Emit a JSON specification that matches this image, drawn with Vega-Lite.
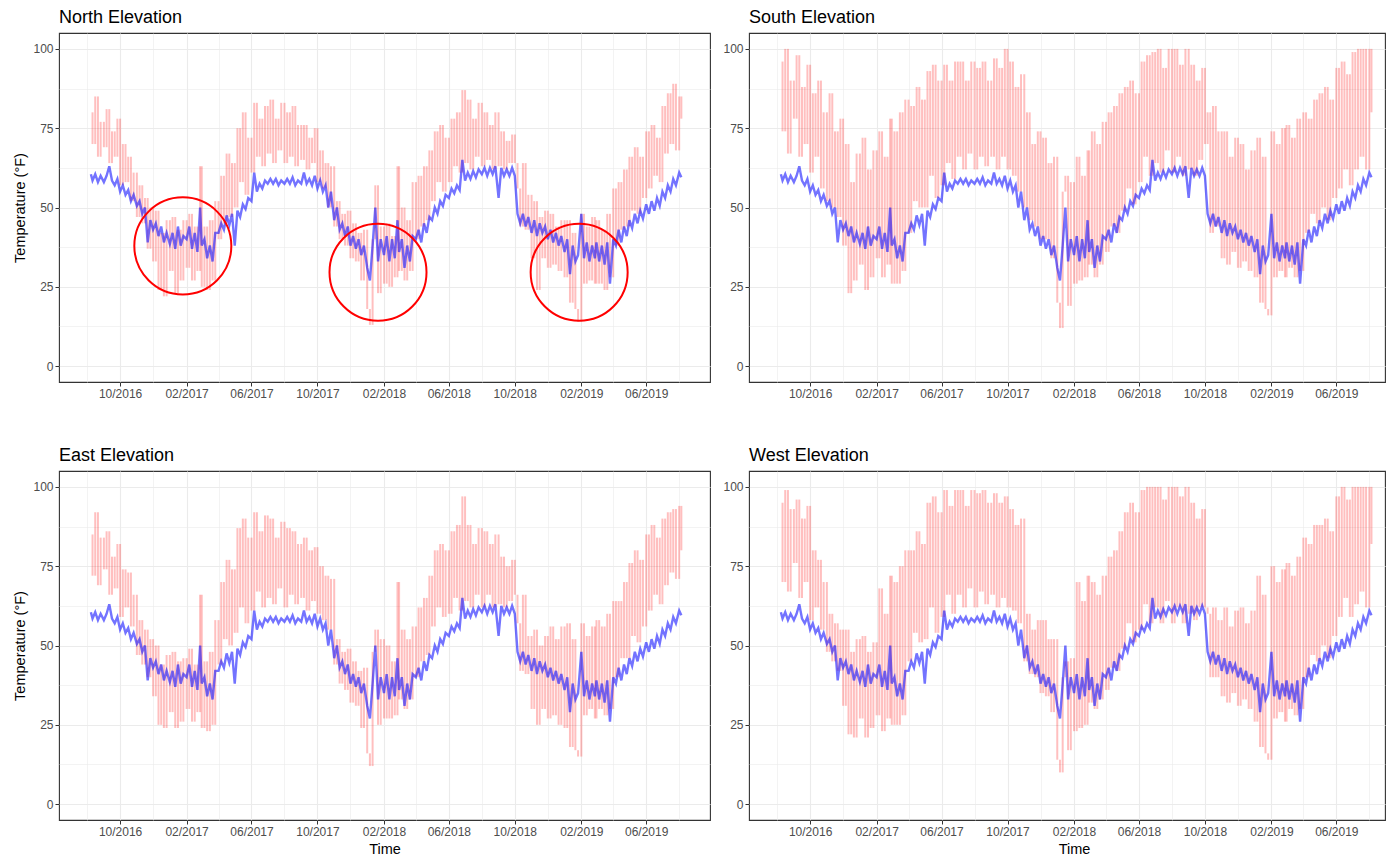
{
"$schema":"https://vega.github.io/schema/vega-lite/v6.json",
"background":"white",
"padding":{"left":12,"top":8,"right":0,"bottom":0},
"spacing":46,
"datasets":{
"c":[{"t":"2017-01-25","v":37.9},{"t":"2018-01-21","v":29.6},{"t":"2019-01-28","v":29.6}],
"d":[
{"t":"2016-08-08","i":60.5,"n":80,"s":96,"e":85,"w":95},
{"t":"2016-08-11","i":58.5,"n":70,"s":74,"e":72,"w":70},
{"t":"2016-08-16","i":60.5,"n":85,"s":100,"e":92,"w":99},
{"t":"2016-08-21","i":58,"n":66,"s":67,"e":69,"w":67},
{"t":"2016-08-26","i":60,"n":77,"s":90,"e":84,"w":93},
{"t":"2016-09-01","i":58,"n":69,"s":78,"e":74,"w":76},
{"t":"2016-09-06","i":60,"n":81,"s":98,"e":86,"w":96},
{"t":"2016-09-11","i":63,"n":64,"s":66,"e":66,"w":65},
{"t":"2016-09-16","i":58.5,"n":74,"s":88,"e":78,"w":90},
{"t":"2016-09-21","i":57,"n":66,"s":70,"e":68,"w":70},
{"t":"2016-09-26","i":59,"n":78,"s":95,"e":82,"w":94},
{"t":"2016-10-01","i":55,"n":57,"s":61,"e":59,"w":58},
{"t":"2016-10-06","i":57,"n":70,"s":86,"e":74,"w":80},
{"t":"2016-10-11","i":54,"n":58,"s":66,"e":62,"w":62},
{"t":"2016-10-16","i":55.5,"n":66,"s":90,"e":73,"w":77},
{"t":"2016-10-21","i":52,"n":52,"s":56,"e":56,"w":55},
{"t":"2016-10-26","i":54,"n":61,"s":80,"e":66,"w":70},
{"t":"2016-11-01","i":50.5,"n":47,"s":52,"e":47,"w":48},
{"t":"2016-11-06","i":52,"n":57,"s":86,"e":58,"w":60},
{"t":"2016-11-11","i":48,"n":45,"s":50,"e":44,"w":45},
{"t":"2016-11-16","i":50,"n":53,"s":74,"e":55,"w":57},
{"t":"2016-11-21","i":39,"n":37,"s":47,"e":40,"w":42},
{"t":"2016-11-26","i":46,"n":50,"s":78,"e":52,"w":55},
{"t":"2016-12-01","i":43,"n":33,"s":38,"e":34,"w":31},
{"t":"2016-12-06","i":45,"n":49,"s":70,"e":50,"w":55},
{"t":"2016-12-11","i":41,"n":24,"s":23,"e":25,"w":22},
{"t":"2016-12-16","i":44,"n":42,"s":58,"e":44,"w":48},
{"t":"2016-12-21","i":39,"n":22,"s":27,"e":24,"w":21},
{"t":"2016-12-26","i":42,"n":46,"s":67,"e":47,"w":52},
{"t":"2017-01-01","i":38.5,"n":30,"s":32,"e":29,"w":27},
{"t":"2017-01-06","i":42,"n":47,"s":72,"e":48,"w":53},
{"t":"2017-01-11","i":37,"n":23,"s":24,"e":24,"w":21},
{"t":"2017-01-16","i":44,"n":43,"s":62,"e":45,"w":48},
{"t":"2017-01-21","i":38,"n":27,"s":28,"e":26,"w":24},
{"t":"2017-01-26","i":41,"n":46,"s":68,"e":46,"w":51},
{"t":"2017-02-01","i":40,"n":31,"s":34,"e":30,"w":28},
{"t":"2017-02-06","i":44,"n":48,"s":74,"e":49,"w":68},
{"t":"2017-02-11","i":37,"n":27,"s":28,"e":26,"w":23},
{"t":"2017-02-16","i":42,"n":44,"s":66,"e":44,"w":60},
{"t":"2017-02-21","i":36,"n":30,"s":32,"e":29,"w":27},
{"t":"2017-02-26","i":50,"n":63,"s":78,"e":66,"w":72},
{"t":"2017-03-01","i":38,"n":25,"s":26,"e":24,"w":25},
{"t":"2017-03-06","i":40,"n":44,"s":74,"e":45,"w":70},
{"t":"2017-03-11","i":34,"n":24,"s":26,"e":23,"w":25},
{"t":"2017-03-16","i":38,"n":46,"s":80,"e":48,"w":75},
{"t":"2017-03-21","i":33,"n":27,"s":30,"e":25,"w":28},
{"t":"2017-03-26","i":42,"n":52,"s":84,"e":58,"w":80},
{"t":"2017-04-01","i":42,"n":40,"s":42,"e":44,"w":45},
{"t":"2017-04-06","i":45,"n":60,"s":82,"e":70,"w":80},
{"t":"2017-04-11","i":43,"n":45,"s":52,"e":52,"w":54},
{"t":"2017-04-16","i":47.5,"n":67,"s":88,"e":77,"w":86},
{"t":"2017-04-21","i":44.5,"n":47,"s":50,"e":50,"w":51},
{"t":"2017-04-26","i":48,"n":64,"s":84,"e":74,"w":82},
{"t":"2017-05-01","i":38,"n":50,"s":50,"e":54,"w":52},
{"t":"2017-05-06","i":49,"n":75,"s":93,"e":87,"w":95},
{"t":"2017-05-11","i":47,"n":58,"s":60,"e":62,"w":62},
{"t":"2017-05-16","i":51,"n":80,"s":95,"e":90,"w":97},
{"t":"2017-05-21","i":49.5,"n":54,"s":53,"e":57,"w":54},
{"t":"2017-05-26","i":53,"n":72,"s":90,"e":84,"w":92},
{"t":"2017-06-01","i":52,"n":61,"s":57,"e":61,"w":59},
{"t":"2017-06-06","i":61,"n":83,"s":95,"e":92,"w":99},
{"t":"2017-06-11","i":55,"n":66,"s":64,"e":67,"w":66},
{"t":"2017-06-16","i":57.5,"n":78,"s":90,"e":86,"w":94},
{"t":"2017-06-21","i":56,"n":63,"s":59,"e":62,"w":60},
{"t":"2017-06-26","i":58.5,"n":82,"s":96,"e":91,"w":99},
{"t":"2017-07-01","i":57.5,"n":67,"s":66,"e":65,"w":66},
{"t":"2017-07-06","i":59,"n":84,"s":96,"e":90,"w":99},
{"t":"2017-07-11","i":57.5,"n":64,"s":62,"e":63,"w":62},
{"t":"2017-07-16","i":59,"n":78,"s":90,"e":84,"w":94},
{"t":"2017-07-21","i":57,"n":68,"s":67,"e":68,"w":68},
{"t":"2017-07-26","i":58.5,"n":83,"s":96,"e":89,"w":99},
{"t":"2017-08-01","i":57.5,"n":64,"s":62,"e":62,"w":62},
{"t":"2017-08-06","i":59,"n":80,"s":94,"e":87,"w":98},
{"t":"2017-08-11","i":57.5,"n":66,"s":66,"e":66,"w":67},
{"t":"2017-08-16","i":59.5,"n":82,"s":96,"e":86,"w":99},
{"t":"2017-08-21","i":57,"n":63,"s":63,"e":63,"w":63},
{"t":"2017-08-26","i":58.5,"n":76,"s":90,"e":82,"w":95},
{"t":"2017-09-01","i":57.5,"n":65,"s":66,"e":65,"w":66},
{"t":"2017-09-06","i":61,"n":76,"s":97,"e":84,"w":98},
{"t":"2017-09-11","i":57.5,"n":62,"s":62,"e":61,"w":62},
{"t":"2017-09-16","i":59,"n":72,"s":94,"e":80,"w":95},
{"t":"2017-09-21","i":57,"n":64,"s":66,"e":64,"w":65},
{"t":"2017-09-26","i":60,"n":75,"s":100,"e":81,"w":97},
{"t":"2017-10-01","i":56,"n":58,"s":62,"e":60,"w":62},
{"t":"2017-10-06","i":58.5,"n":68,"s":96,"e":75,"w":93},
{"t":"2017-10-11","i":55,"n":56,"s":60,"e":58,"w":61},
{"t":"2017-10-16","i":57,"n":64,"s":88,"e":72,"w":88},
{"t":"2017-10-21","i":50,"n":50,"s":55,"e":55,"w":57},
{"t":"2017-10-26","i":55,"n":63,"s":92,"e":71,"w":90},
{"t":"2017-11-01","i":46,"n":44,"s":50,"e":44,"w":45},
{"t":"2017-11-06","i":50,"n":52,"s":80,"e":52,"w":60},
{"t":"2017-11-11","i":43,"n":40,"s":46,"e":38,"w":41},
{"t":"2017-11-16","i":45,"n":48,"s":70,"e":48,"w":55},
{"t":"2017-11-21","i":41,"n":38,"s":44,"e":36,"w":40},
{"t":"2017-11-26","i":44,"n":49,"s":74,"e":49,"w":58},
{"t":"2017-12-01","i":38,"n":34,"s":40,"e":32,"w":35},
{"t":"2017-12-06","i":41,"n":45,"s":72,"e":45,"w":58},
{"t":"2017-12-11","i":37,"n":33,"s":40,"e":31,"w":34},
{"t":"2017-12-16","i":40,"n":42,"s":64,"e":42,"w":52},
{"t":"2017-12-21","i":35,"n":27,"s":34,"e":24,"w":29},
{"t":"2017-12-26","i":38,"n":43,"s":66,"e":43,"w":52},
{"t":"2018-01-01","i":31,"n":18,"s":20,"e":16,"w":14},
{"t":"2018-01-06","i":27,"n":13,"s":12,"e":12,"w":10},
{"t":"2018-01-11","i":38,"n":40,"s":55,"e":48,"w":40},
{"t":"2018-01-16","i":50,"n":57,"s":60,"e":55,"w":45},
{"t":"2018-01-21","i":33,"n":23,"s":19,"e":25,"w":17},
{"t":"2018-01-26","i":40,"n":44,"s":58,"e":52,"w":46},
{"t":"2018-02-01","i":35,"n":26,"s":26,"e":27,"w":23},
{"t":"2018-02-06","i":41,"n":45,"s":66,"e":50,"w":70},
{"t":"2018-02-11","i":33,"n":25,"s":27,"e":27,"w":24},
{"t":"2018-02-16","i":40,"n":41,"s":60,"e":45,"w":64},
{"t":"2018-02-21","i":34,"n":28,"s":28,"e":28,"w":25},
{"t":"2018-02-26","i":46,"n":63,"s":68,"e":70,"w":72},
{"t":"2018-03-01","i":36,"n":30,"s":32,"e":33,"w":32},
{"t":"2018-03-06","i":40,"n":50,"s":74,"e":55,"w":70},
{"t":"2018-03-11","i":31,"n":27,"s":28,"e":30,"w":30},
{"t":"2018-03-16","i":38,"n":46,"s":70,"e":52,"w":66},
{"t":"2018-03-21","i":33,"n":30,"s":32,"e":33,"w":33},
{"t":"2018-03-26","i":41,"n":58,"s":77,"e":56,"w":72},
{"t":"2018-04-01","i":40,"n":40,"s":36,"e":40,"w":36},
{"t":"2018-04-06","i":43,"n":60,"s":80,"e":62,"w":78},
{"t":"2018-04-11","i":39,"n":44,"s":44,"e":45,"w":43},
{"t":"2018-04-16","i":45,"n":63,"s":82,"e":65,"w":80},
{"t":"2018-04-21","i":42,"n":46,"s":42,"e":47,"w":42},
{"t":"2018-04-26","i":47,"n":68,"s":86,"e":72,"w":86},
{"t":"2018-05-01","i":46,"n":52,"s":49,"e":56,"w":49},
{"t":"2018-05-06","i":50,"n":74,"s":88,"e":80,"w":92},
{"t":"2018-05-11","i":48,"n":58,"s":56,"e":62,"w":57},
{"t":"2018-05-16","i":52,"n":76,"s":90,"e":82,"w":95},
{"t":"2018-05-21","i":50.5,"n":55,"s":51,"e":59,"w":51},
{"t":"2018-05-26","i":54,"n":72,"s":86,"e":80,"w":92},
{"t":"2018-06-01","i":53,"n":58,"s":58,"e":60,"w":55},
{"t":"2018-06-06","i":56,"n":78,"s":96,"e":86,"w":99},
{"t":"2018-06-11","i":54.5,"n":63,"s":66,"e":65,"w":63},
{"t":"2018-06-16","i":57,"n":80,"s":98,"e":88,"w":100},
{"t":"2018-06-21","i":55.5,"n":61,"s":60,"e":61,"w":57},
{"t":"2018-06-26","i":65,"n":87,"s":99,"e":97,"w":100},
{"t":"2018-07-01","i":58.5,"n":64,"s":64,"e":64,"w":62},
{"t":"2018-07-06","i":61,"n":84,"s":100,"e":88,"w":100},
{"t":"2018-07-11","i":59,"n":62,"s":61,"e":62,"w":57},
{"t":"2018-07-16","i":61.5,"n":78,"s":94,"e":82,"w":96},
{"t":"2018-07-21","i":59.5,"n":66,"s":68,"e":66,"w":64},
{"t":"2018-07-26","i":62,"n":83,"s":100,"e":87,"w":100},
{"t":"2018-08-01","i":60.5,"n":63,"s":61,"e":62,"w":57},
{"t":"2018-08-06","i":62.5,"n":80,"s":100,"e":86,"w":100},
{"t":"2018-08-11","i":60,"n":65,"s":66,"e":66,"w":62},
{"t":"2018-08-16","i":62.5,"n":76,"s":95,"e":82,"w":97},
{"t":"2018-08-21","i":60.5,"n":62,"s":60,"e":62,"w":57},
{"t":"2018-08-26","i":63,"n":80,"s":100,"e":85,"w":100},
{"t":"2018-09-01","i":53,"n":63,"s":62,"e":63,"w":60},
{"t":"2018-09-06","i":62.5,"n":74,"s":95,"e":78,"w":95},
{"t":"2018-09-11","i":60,"n":62,"s":60,"e":62,"w":58},
{"t":"2018-09-16","i":62,"n":71,"s":90,"e":75,"w":90},
{"t":"2018-09-21","i":60,"n":64,"s":65,"e":64,"w":62},
{"t":"2018-09-26","i":62.5,"n":73,"s":94,"e":77,"w":93},
{"t":"2018-10-01","i":60,"n":64,"s":70,"e":66,"w":62},
{"t":"2018-10-06","i":48,"n":56,"s":80,"e":57,"w":60},
{"t":"2018-10-11","i":45,"n":44,"s":42,"e":42,"w":40},
{"t":"2018-10-16","i":48,"n":64,"s":82,"e":66,"w":62},
{"t":"2018-10-21","i":44,"n":43,"s":44,"e":41,"w":40},
{"t":"2018-10-26","i":47,"n":54,"s":74,"e":53,"w":58},
{"t":"2018-11-01","i":42,"n":34,"s":34,"e":30,"w":34},
{"t":"2018-11-06","i":46,"n":52,"s":74,"e":55,"w":62},
{"t":"2018-11-11","i":41,"n":24,"s":32,"e":25,"w":32},
{"t":"2018-11-16","i":45,"n":47,"s":66,"e":50,"w":56},
{"t":"2018-11-21","i":42,"n":34,"s":36,"e":30,"w":35},
{"t":"2018-11-26","i":44,"n":49,"s":72,"e":53,"w":61},
{"t":"2018-12-01","i":40,"n":31,"s":31,"e":27,"w":31},
{"t":"2018-12-06","i":43,"n":48,"s":70,"e":56,"w":62},
{"t":"2018-12-11","i":39,"n":32,"s":33,"e":28,"w":33},
{"t":"2018-12-16","i":42,"n":44,"s":62,"e":52,"w":57},
{"t":"2018-12-21","i":38,"n":30,"s":30,"e":25,"w":30},
{"t":"2018-12-26","i":41,"n":46,"s":68,"e":56,"w":61},
{"t":"2019-01-01","i":36,"n":28,"s":28,"e":24,"w":26},
{"t":"2019-01-06","i":40,"n":46,"s":72,"e":57,"w":72},
{"t":"2019-01-11","i":29,"n":20,"s":20,"e":18,"w":18},
{"t":"2019-01-16","i":38,"n":42,"s":66,"e":52,"w":66},
{"t":"2019-01-21","i":33,"n":18,"s":18,"e":17,"w":16},
{"t":"2019-01-26","i":35,"n":14,"s":16,"e":15,"w":14},
{"t":"2019-02-01","i":48,"n":48,"s":74,"e":57,"w":75},
{"t":"2019-02-06","i":34,"n":26,"s":28,"e":28,"w":27},
{"t":"2019-02-11","i":39,"n":44,"s":70,"e":53,"w":70},
{"t":"2019-02-16","i":33,"n":27,"s":30,"e":30,"w":29},
{"t":"2019-02-21","i":38,"n":47,"s":75,"e":56,"w":74},
{"t":"2019-02-26","i":34,"n":26,"s":28,"e":27,"w":26},
{"t":"2019-03-01","i":39,"n":46,"s":76,"e":58,"w":76},
{"t":"2019-03-06","i":33,"n":26,"s":31,"e":30,"w":30},
{"t":"2019-03-11","i":38,"n":43,"s":72,"e":56,"w":72},
{"t":"2019-03-16","i":32,"n":24,"s":28,"e":28,"w":28},
{"t":"2019-03-21","i":39,"n":48,"s":78,"e":60,"w":78},
{"t":"2019-03-26","i":26,"n":28,"s":30,"e":30,"w":30},
{"t":"2019-04-01","i":40,"n":56,"s":80,"e":64,"w":84},
{"t":"2019-04-06","i":38,"n":38,"s":42,"e":40,"w":40},
{"t":"2019-04-11","i":43,"n":58,"s":78,"e":64,"w":82},
{"t":"2019-04-16","i":39,"n":43,"s":48,"e":46,"w":47},
{"t":"2019-04-21","i":44,"n":62,"s":84,"e":70,"w":88},
{"t":"2019-04-26","i":41,"n":44,"s":45,"e":46,"w":45},
{"t":"2019-05-01","i":46,"n":66,"s":86,"e":76,"w":88},
{"t":"2019-05-06","i":43.5,"n":49,"s":50,"e":53,"w":50},
{"t":"2019-05-11","i":48,"n":69,"s":88,"e":80,"w":90},
{"t":"2019-05-16","i":45,"n":48,"s":46,"e":51,"w":46},
{"t":"2019-05-21","i":49,"n":66,"s":84,"e":77,"w":86},
{"t":"2019-05-26","i":46.5,"n":53,"s":53,"e":56,"w":53},
{"t":"2019-06-01","i":51,"n":74,"s":94,"e":85,"w":97},
{"t":"2019-06-06","i":48,"n":56,"s":56,"e":61,"w":59},
{"t":"2019-06-11","i":52,"n":76,"s":96,"e":88,"w":100},
{"t":"2019-06-16","i":49,"n":60,"s":62,"e":66,"w":65},
{"t":"2019-06-21","i":53,"n":72,"s":92,"e":84,"w":96},
{"t":"2019-06-26","i":50.5,"n":58,"s":57,"e":63,"w":59},
{"t":"2019-07-01","i":55,"n":82,"s":99,"e":90,"w":100},
{"t":"2019-07-06","i":53,"n":67,"s":62,"e":69,"w":63},
{"t":"2019-07-11","i":57,"n":86,"s":100,"e":92,"w":100},
{"t":"2019-07-16","i":55,"n":70,"s":66,"e":73,"w":67},
{"t":"2019-07-21","i":59,"n":89,"s":100,"e":93,"w":100},
{"t":"2019-07-26","i":57,"n":68,"s":62,"e":71,"w":62},
{"t":"2019-08-01","i":61,"n":85,"s":100,"e":94,"w":100},
{"t":"2019-08-05","i":59.5,"n":78,"s":80,"e":80,"w":82}
]},
"vconcat":[
{"spacing":11,"hconcat":[
{"title":"North Elevation","width":651,"height":349,"data":{"name":"d"},
 "encoding":{"x":{"field":"t","type":"temporal","title":null,"scale":{"domain":[{"year":2016,"month":6,"date":10},{"year":2019,"month":9,"date":27}],"nice":false},
  "axis":{"values":[{"year":2016,"month":8,"date":1},{"year":2016,"month":10,"date":1},{"year":2016,"month":12,"date":1},{"year":2017,"month":2,"date":1},{"year":2017,"month":4,"date":1},{"year":2017,"month":6,"date":1},{"year":2017,"month":8,"date":1},{"year":2017,"month":10,"date":1},{"year":2017,"month":12,"date":1},{"year":2018,"month":2,"date":1},{"year":2018,"month":4,"date":1},{"year":2018,"month":6,"date":1},{"year":2018,"month":8,"date":1},{"year":2018,"month":10,"date":1},{"year":2018,"month":12,"date":1},{"year":2019,"month":2,"date":1},{"year":2019,"month":4,"date":1},{"year":2019,"month":6,"date":1},{"year":2019,"month":8,"date":1}],
   "format":"%m/%Y","labelExpr":"month(datum.value) % 4 === 3 ? '' : datum.label","labelOverlap":false,"labelFlush":false,
   "tickOpacity":{"condition":{"test":"month(datum.value) % 4 === 3","value":0},"value":1},
   "gridWidth":{"condition":{"test":"month(datum.value) % 4 === 3","value":0.6},"value":1.1}}}},
 "layer":[
  {"transform":[{"window":[{"op":"lag","field":"n","as":"p"}],"sort":[{"field":"t"}]}],
   "mark":{"type":"rule","color":"#ff0000","opacity":0.25,"strokeWidth":2},
   "encoding":{"y":{"field":"n","type":"quantitative","title":"Temperature (°F)","scale":{"domain":[-5,105],"nice":false,"zero":false},
    "axis":{"values":[0,12.5,25,37.5,50,62.5,75,87.5,100],"labelExpr":"datum.value % 25 === 0 ? datum.label : ''","titlePadding":5,
     "tickOpacity":{"condition":{"test":"datum.value % 25 !== 0","value":0},"value":1},
     "gridWidth":{"condition":{"test":"datum.value % 25 !== 0","value":0.6},"value":1.1}}},"y2":{"field":"p"}}},
  {"mark":{"type":"line","color":"#0000ff","opacity":0.55,"strokeWidth":2.4},
   "encoding":{"y":{"field":"i","type":"quantitative","title":"Temperature (°F)","scale":{"domain":[-5,105],"nice":false,"zero":false}}}},
  {"data":{"name":"c"},"mark":{"type":"point","shape":"circle","filled":false,"color":"#ff0000","strokeWidth":2,"size":9409,"opacity":1},
   "encoding":{"y":{"field":"v","type":"quantitative","title":"Temperature (°F)","scale":{"domain":[-5,105],"nice":false,"zero":false}}}}
 ]},
{"title":"South Elevation","width":636,"height":349,"data":{"name":"d"},
 "encoding":{"x":{"field":"t","type":"temporal","title":null,"scale":{"domain":[{"year":2016,"month":6,"date":10},{"year":2019,"month":8,"date":30}],"nice":false},
  "axis":{"values":[{"year":2016,"month":8,"date":1},{"year":2016,"month":10,"date":1},{"year":2016,"month":12,"date":1},{"year":2017,"month":2,"date":1},{"year":2017,"month":4,"date":1},{"year":2017,"month":6,"date":1},{"year":2017,"month":8,"date":1},{"year":2017,"month":10,"date":1},{"year":2017,"month":12,"date":1},{"year":2018,"month":2,"date":1},{"year":2018,"month":4,"date":1},{"year":2018,"month":6,"date":1},{"year":2018,"month":8,"date":1},{"year":2018,"month":10,"date":1},{"year":2018,"month":12,"date":1},{"year":2019,"month":2,"date":1},{"year":2019,"month":4,"date":1},{"year":2019,"month":6,"date":1},{"year":2019,"month":8,"date":1}],
   "format":"%m/%Y","labelExpr":"month(datum.value) % 4 === 3 ? '' : datum.label","labelOverlap":false,"labelFlush":false,
   "tickOpacity":{"condition":{"test":"month(datum.value) % 4 === 3","value":0},"value":1},
   "gridWidth":{"condition":{"test":"month(datum.value) % 4 === 3","value":0.6},"value":1.1}}}},
 "layer":[
  {"transform":[{"window":[{"op":"lag","field":"s","as":"p"}],"sort":[{"field":"t"}]}],
   "mark":{"type":"rule","color":"#ff0000","opacity":0.25,"strokeWidth":2},
   "encoding":{"y":{"field":"s","type":"quantitative","title":null,"scale":{"domain":[-5,105],"nice":false,"zero":false},
    "axis":{"values":[0,12.5,25,37.5,50,62.5,75,87.5,100],"labelExpr":"datum.value % 25 === 0 ? datum.label : ''",
     "tickOpacity":{"condition":{"test":"datum.value % 25 !== 0","value":0},"value":1},
     "gridWidth":{"condition":{"test":"datum.value % 25 !== 0","value":0.6},"value":1.1}}},"y2":{"field":"p"}}},
  {"mark":{"type":"line","color":"#0000ff","opacity":0.55,"strokeWidth":2.4},
   "encoding":{"y":{"field":"i","type":"quantitative","title":null,"scale":{"domain":[-5,105],"nice":false,"zero":false}}}}
 ]}
]},
{"spacing":11,"hconcat":[
{"title":"East Elevation","width":651,"height":349,"data":{"name":"d"},
 "encoding":{"x":{"field":"t","type":"temporal","title":"Time","scale":{"domain":[{"year":2016,"month":6,"date":10},{"year":2019,"month":9,"date":27}],"nice":false},
  "axis":{"values":[{"year":2016,"month":8,"date":1},{"year":2016,"month":10,"date":1},{"year":2016,"month":12,"date":1},{"year":2017,"month":2,"date":1},{"year":2017,"month":4,"date":1},{"year":2017,"month":6,"date":1},{"year":2017,"month":8,"date":1},{"year":2017,"month":10,"date":1},{"year":2017,"month":12,"date":1},{"year":2018,"month":2,"date":1},{"year":2018,"month":4,"date":1},{"year":2018,"month":6,"date":1},{"year":2018,"month":8,"date":1},{"year":2018,"month":10,"date":1},{"year":2018,"month":12,"date":1},{"year":2019,"month":2,"date":1},{"year":2019,"month":4,"date":1},{"year":2019,"month":6,"date":1},{"year":2019,"month":8,"date":1}],
   "format":"%m/%Y","labelExpr":"month(datum.value) % 4 === 3 ? '' : datum.label","labelOverlap":false,"labelFlush":false,"titlePadding":5,
   "tickOpacity":{"condition":{"test":"month(datum.value) % 4 === 3","value":0},"value":1},
   "gridWidth":{"condition":{"test":"month(datum.value) % 4 === 3","value":0.6},"value":1.1}}}},
 "layer":[
  {"transform":[{"window":[{"op":"lag","field":"e","as":"p"}],"sort":[{"field":"t"}]}],
   "mark":{"type":"rule","color":"#ff0000","opacity":0.25,"strokeWidth":2},
   "encoding":{"y":{"field":"e","type":"quantitative","title":"Temperature (°F)","scale":{"domain":[-5,105],"nice":false,"zero":false},
    "axis":{"values":[0,12.5,25,37.5,50,62.5,75,87.5,100],"labelExpr":"datum.value % 25 === 0 ? datum.label : ''","titlePadding":5,
     "tickOpacity":{"condition":{"test":"datum.value % 25 !== 0","value":0},"value":1},
     "gridWidth":{"condition":{"test":"datum.value % 25 !== 0","value":0.6},"value":1.1}}},"y2":{"field":"p"}}},
  {"mark":{"type":"line","color":"#0000ff","opacity":0.55,"strokeWidth":2.4},
   "encoding":{"y":{"field":"i","type":"quantitative","title":"Temperature (°F)","scale":{"domain":[-5,105],"nice":false,"zero":false}}}}
 ]},
{"title":"West Elevation","width":636,"height":349,"data":{"name":"d"},
 "encoding":{"x":{"field":"t","type":"temporal","title":"Time","scale":{"domain":[{"year":2016,"month":6,"date":10},{"year":2019,"month":8,"date":30}],"nice":false},
  "axis":{"values":[{"year":2016,"month":8,"date":1},{"year":2016,"month":10,"date":1},{"year":2016,"month":12,"date":1},{"year":2017,"month":2,"date":1},{"year":2017,"month":4,"date":1},{"year":2017,"month":6,"date":1},{"year":2017,"month":8,"date":1},{"year":2017,"month":10,"date":1},{"year":2017,"month":12,"date":1},{"year":2018,"month":2,"date":1},{"year":2018,"month":4,"date":1},{"year":2018,"month":6,"date":1},{"year":2018,"month":8,"date":1},{"year":2018,"month":10,"date":1},{"year":2018,"month":12,"date":1},{"year":2019,"month":2,"date":1},{"year":2019,"month":4,"date":1},{"year":2019,"month":6,"date":1},{"year":2019,"month":8,"date":1}],
   "format":"%m/%Y","labelExpr":"month(datum.value) % 4 === 3 ? '' : datum.label","labelOverlap":false,"labelFlush":false,"titlePadding":5,"titleX":325,
   "tickOpacity":{"condition":{"test":"month(datum.value) % 4 === 3","value":0},"value":1},
   "gridWidth":{"condition":{"test":"month(datum.value) % 4 === 3","value":0.6},"value":1.1}}}},
 "layer":[
  {"transform":[{"window":[{"op":"lag","field":"w","as":"p"}],"sort":[{"field":"t"}]}],
   "mark":{"type":"rule","color":"#ff0000","opacity":0.25,"strokeWidth":2},
   "encoding":{"y":{"field":"w","type":"quantitative","title":null,"scale":{"domain":[-5,105],"nice":false,"zero":false},
    "axis":{"values":[0,12.5,25,37.5,50,62.5,75,87.5,100],"labelExpr":"datum.value % 25 === 0 ? datum.label : ''",
     "tickOpacity":{"condition":{"test":"datum.value % 25 !== 0","value":0},"value":1},
     "gridWidth":{"condition":{"test":"datum.value % 25 !== 0","value":0.6},"value":1.1}}},"y2":{"field":"p"}}},
  {"mark":{"type":"line","color":"#0000ff","opacity":0.55,"strokeWidth":2.4},
   "encoding":{"y":{"field":"i","type":"quantitative","title":null,"scale":{"domain":[-5,105],"nice":false,"zero":false}}}}
 ]}
]}
],
"config":{
 "font":"Liberation Sans",
 "view":{"stroke":"#333333","strokeWidth":1.1},
 "axis":{"domain":false,"grid":true,"gridColor":"#ebebeb","tickColor":"#333333","tickSize":4,"tickWidth":1,
  "labelColor":"#4d4d4d","labelFontSize":12,"labelFont":"Liberation Sans","labelPadding":2,
  "titleFont":"Liberation Sans","titleFontSize":14.5,"titleFontWeight":"normal","titleColor":"#000000"},
 "title":{"fontSize":18,"font":"Liberation Sans","fontWeight":"normal","anchor":"start","frame":"group","offset":6,"baseline":"alphabetic","color":"#000000"}
}
}
